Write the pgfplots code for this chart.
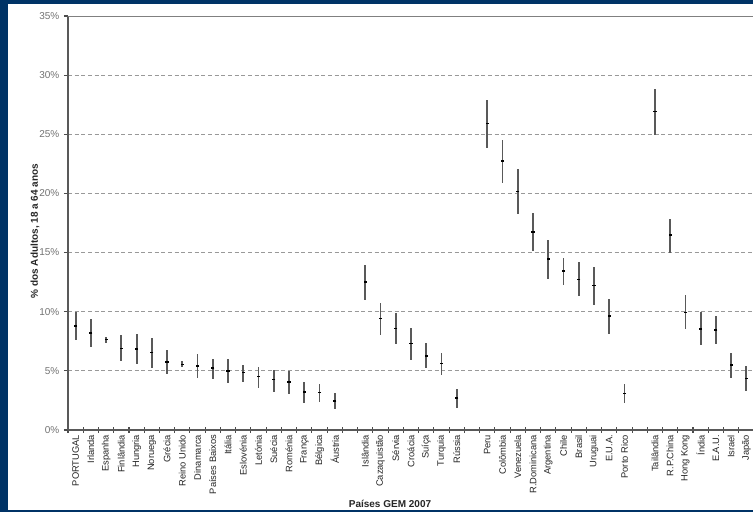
\documentclass[border=0pt]{standalone}
\usepackage{fontspec}
\setmainfont{Liberation Sans}
\usepackage{pgfplots}
\usepackage{pgfplotstable}
\pgfplotsset{compat=1.18}
\definecolor{frameblue}{RGB}{0,51,102}

% slot, central value, lower and upper bound (percent)
\pgfplotstableread[col sep=comma]{
x,mid,lo,hi,label
0.5,8.8,7.6,10.0,PORTUGAL
1.5,8.2,7.0,9.4,Irlanda
2.5,7.65,7.35,7.9,Espanha
3.5,6.9,5.8,8.0,Finlândia
4.5,6.85,5.55,8.15,Hungria
5.5,6.55,5.2,7.75,Noruega
6.5,5.75,4.7,6.75,Grécia
7.5,5.55,5.3,5.8,Reino Unido
8.5,5.4,4.4,6.45,Dinamarca
9.5,5.25,4.35,6.0,Países Baixos
10.5,5.0,4.0,6.0,Itália
11.5,4.85,4.05,5.5,Eslovénia
12.5,4.5,3.55,5.35,Letónia
13.5,4.25,3.2,5.1,Suécia
14.5,4.05,3.05,5.0,Roménia
15.5,3.2,2.25,4.1,França
16.5,3.15,2.35,3.9,Bélgica
17.5,2.45,1.8,3.1,Áustria
19.5,12.5,11.0,13.95,Islândia
20.5,9.4,8.05,10.7,Cazaquistão
21.5,8.6,7.25,9.85,Sérvia
22.5,7.3,5.9,8.6,Croácia
23.5,6.25,5.2,7.35,Suíça
24.5,5.65,4.65,6.5,Turquia
25.5,2.7,1.9,3.45,Rússia
27.5,25.9,23.8,27.9,Peru
28.5,22.75,20.85,24.55,Colômbia
29.5,20.15,18.25,22.05,Venezuela
30.5,16.75,15.1,18.35,R.Dominicana
31.5,14.45,12.75,16.1,Argentina
32.5,13.45,12.3,14.5,Chile
33.5,12.7,11.3,14.2,Brasil
34.5,12.2,10.6,13.75,Uruguai
35.5,9.65,8.1,11.05,E.U.A.
36.5,3.1,2.25,3.85,Porto Rico
38.5,26.9,24.9,28.8,Tailândia
39.5,16.5,15.0,17.8,R.P.China
40.5,9.95,8.5,11.4,Hong Kong
41.5,8.55,7.15,10.0,Índia
42.5,8.45,7.25,9.65,E.A.U.
43.5,5.5,4.4,6.5,Israel
44.5,4.35,3.3,5.4,Japão
}\gem

\begin{document}
\begin{tikzpicture}[x=0.75pt,y=0.75pt]
\useasboundingbox (0,0) rectangle (753,512);
\fill[frameblue] (0,0) rectangle (753,512);
\fill[white] (8,2) rectangle (753,508);
\begin{scope}
\clip (8,2) rectangle (753,508);
\begin{axis}[
  at={(51pt,61.5pt)}, anchor=origin,
  scale only axis, width=514.5pt, height=310.5pt,
  xmin=0, xmax=45, ymin=0, ymax=35,
  axis x line*=bottom, axis y line*=left,
  axis line style={black!65, line width=1pt},
  ytick={0,5,...,35},
  yticklabels={0\%,5\%,10\%,15\%,20\%,25\%,30\%,35\%},
  ytick align=outside,
  ymajorgrids,
  major grid style={densely dashed, black!40, line width=0.6pt},
  major y tick style={black!70, line width=0.8pt},
  major tick length=3pt,
  xtick=data,
  xticklabels from table={\gem}{label},
  major x tick style={draw=none},
  minor xtick={0,...,45},
  minor x tick style={black!70, line width=0.8pt},
  minor tick length=4pt,
  xtick align=center,
  xticklabel style={rotate=90, anchor=east, inner sep=2pt,
    font=\fontsize{7}{8}\selectfont, text=black!85},
  yticklabel style={font=\fontsize{7.5}{9}\selectfont, text=black!55},
]
\draw[black!50, line width=0.8pt] (axis cs:0,35) -- (axis cs:45,35);
\addplot[only marks, mark=-, mark size=1.2pt, black,
  mark options={line width=1pt},
  error bars/.cd, y dir=both, y explicit, error mark=none,
  error bar style={line width=1.35pt, black!65}]
  table[x=x, y=mid,
    y error plus expr=\thisrow{hi}-\thisrow{mid},
    y error minus expr=\thisrow{mid}-\thisrow{lo}] {\gem};
\end{axis}
\end{scope}
\node[rotate=90, font=\bfseries\fontsize{7.5}{9}\selectfont, text=black!85] at (35,281) {\% dos Adultos, 18 a 64 anos};
\node[font=\bfseries\fontsize{7.5}{9}\selectfont, text=black!85, inner sep=0pt] at (390,8) {Países GEM 2007};
\end{tikzpicture}
\end{document}
